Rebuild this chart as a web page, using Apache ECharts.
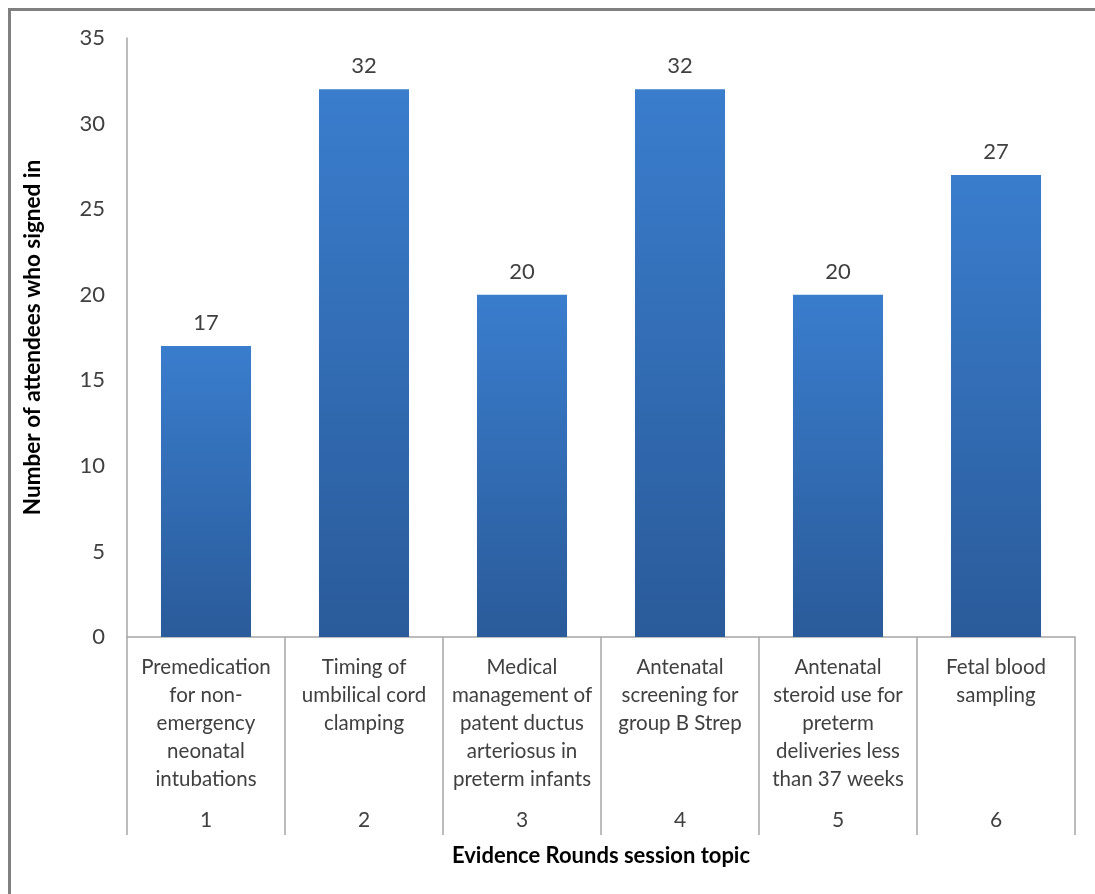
<!DOCTYPE html>
<html>
<head>
<meta charset="utf-8">
<script src="https://cdn.jsdelivr.net/npm/echarts@6/dist/echarts.min.js"></script>
<style>
  html, body { margin: 0; padding: 0; background: #fff; }
  #chart { width: 1095px; height: 894px; }
</style>
</head>
<body>
<div id="chart"></div>
<script>
const topics = [
  'Premedication\nfor non-\nemergency\nneonatal\nintubations',
  'Timing of\numbilical cord\nclamping',
  'Medical\nmanagement of\npatent ductus\narteriosus in\npreterm infants',
  'Antenatal\nscreening for\ngroup B Strep',
  'Antenatal\nsteroid use for\npreterm\ndeliveries less\nthan 37 weeks',
  'Fetal blood\nsampling'
];
const sessionNumbers = ['1', '2', '3', '4', '5', '6'];
const attendees = [17, 32, 20, 32, 20, 27];

const font = 'Lato, "Open Sans", sans-serif';
const textColor = '#404040';
const lineColor = '#a6a6a6';

const chart = echarts.init(document.getElementById('chart'));
chart.setOption({
  animation: false,
  textStyle: { fontFamily: font },
  graphic: [
    {
      type: 'rect',
      shape: { x: 9.5, y: 9.5, width: 1200, height: 1000 },
      style: { fill: 'none', stroke: '#808080', lineWidth: 3 }
    }
  ],
  grid: { left: 127, right: 20, top: 38, bottom: 257 },
  xAxis: [
    {
      type: 'category',
      data: topics,
      name: 'Evidence Rounds session topic',
      nameLocation: 'middle',
      nameGap: 208,
      nameTextStyle: { fontFamily: font, fontSize: 22, fontWeight: 'bold', color: '#000' },
      axisLine: { show: true, lineStyle: { color: lineColor, width: 1.5 } },
      axisTick: { show: true, length: 198, lineStyle: { color: lineColor, width: 1.5 } },
      axisLabel: {
        interval: 0,
        margin: 16,
        fontFamily: font,
        fontSize: 20.5,
        lineHeight: 28,
        color: textColor
      }
    },
    {
      type: 'category',
      data: sessionNumbers,
      position: 'bottom',
      axisLine: { show: false },
      axisTick: { show: false },
      axisLabel: {
        interval: 0,
        margin: 173,
        fontFamily: font,
        fontSize: 21,
        color: textColor
      }
    }
  ],
  yAxis: {
    type: 'value',
    min: 0,
    max: 35,
    interval: 5,
    name: 'Number of attendees who signed in',
    nameLocation: 'middle',
    nameGap: 83,
    nameTextStyle: { fontFamily: font, fontSize: 22.5, fontWeight: 'bold', color: '#000' },
    axisLine: { show: true, lineStyle: { color: lineColor, width: 1.5 } },
    axisTick: { show: false },
    splitLine: { show: false },
    axisLabel: { margin: 22, fontFamily: font, fontSize: 22, color: textColor }
  },
  series: [
    {
      type: 'bar',
      xAxisIndex: 0,
      data: attendees,
      barWidth: '57%',
      itemStyle: {
        color: new echarts.graphic.LinearGradient(0, 0, 0, 1, [
          { offset: 0, color: '#3a7dcd' },
          { offset: 1, color: '#2a5b9a' }
        ])
      },
      label: {
        show: true,
        position: 'top',
        distance: 12,
        fontFamily: font,
        fontSize: 22,
        color: textColor
      }
    }
  ]
});
</script>
</body>
</html>
